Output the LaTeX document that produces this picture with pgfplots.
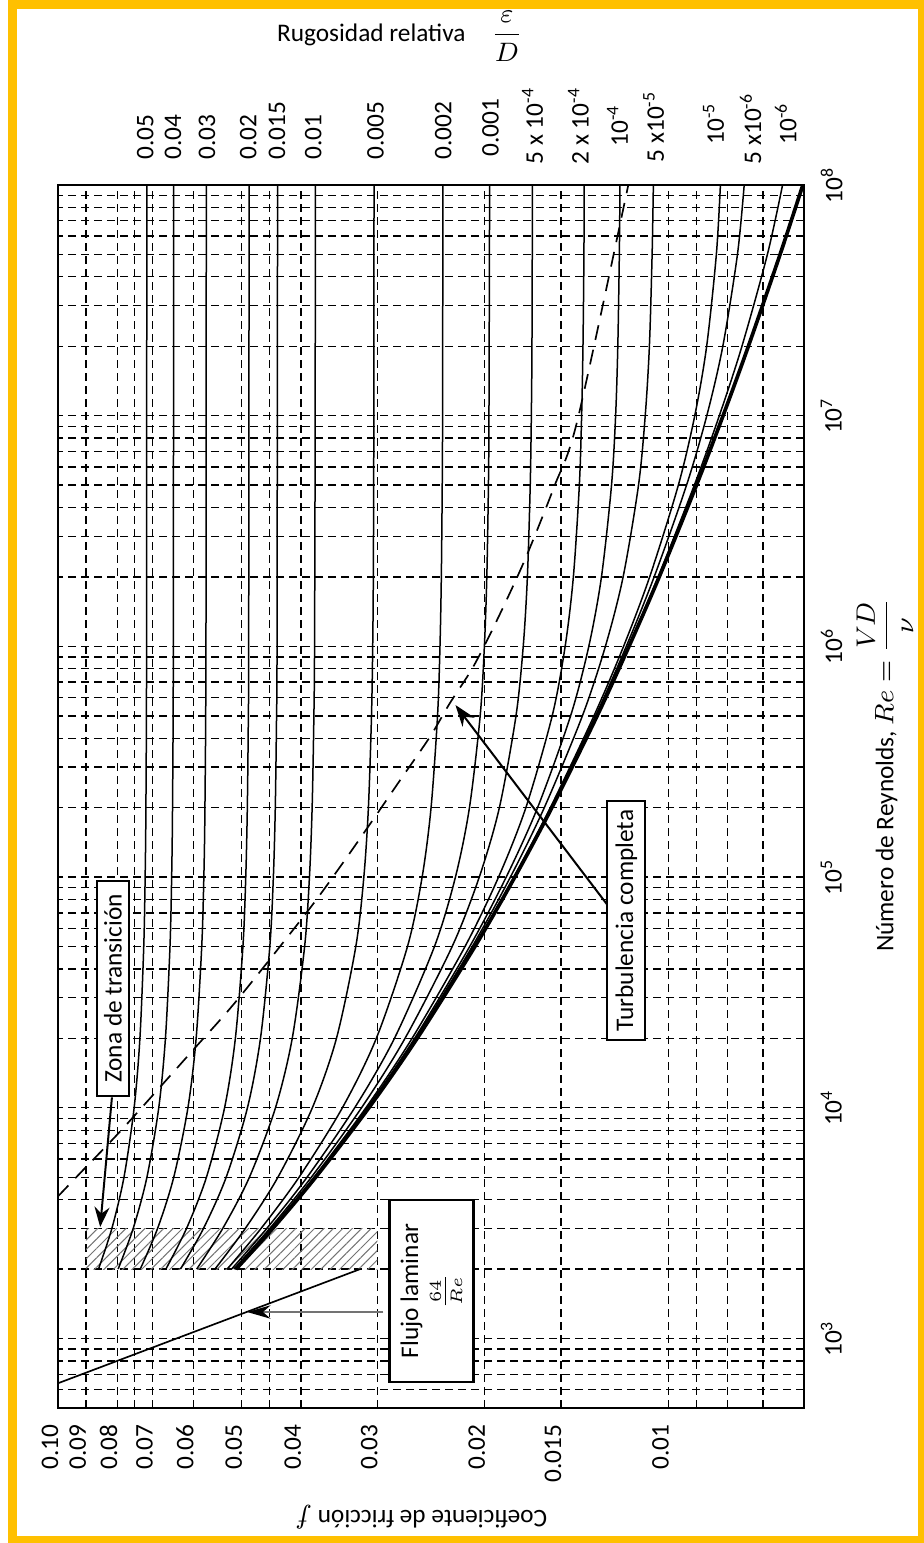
\documentclass[border=0pt]{standalone}
\usepackage{fontspec}
\setmainfont{Carlito}
\usepackage{amsmath}
\usepackage{pgfplots}
\pgfplotsset{compat=1.18}
\usetikzlibrary{arrows.meta,patterns.meta}
\definecolor{frameyellow}{RGB}{255,192,0}
\pgfplotsset{
  moody/.style={black, line width=0.45pt, smooth, tension=0.5},
}
\begin{document}
\begin{tikzpicture}[font=\fontsize{7.6}{9.1}\selectfont]
\begin{axis}[
  at={(0pt,0pt)}, anchor=south west,
  scale only axis, width=223.8pt, height=366.9pt,
  xmode=log, ymode=log, x dir=reverse,
  xmin=0.006, xmax=0.1, ymin=500, ymax=1e8,
  clip=false, no markers,
  axis line style={line width=0.8pt},
  xtick={0.1,0.09,0.08,0.07,0.06,0.05,0.04,0.03,0.02,0.015,0.01},
  xticklabels={0.10,0.09,0.08,0.07,0.06,0.05,0.04,0.03,0.02,0.015,0.01},
  minor xtick={0.075,0.045,0.009,0.008,0.007},
  ytick={1e3,1e4,1e5,1e6,1e7,1e8},
  yticklabels={10\textsuperscript{3},10\textsuperscript{4},10\textsuperscript{5},10\textsuperscript{6},10\textsuperscript{7},10\textsuperscript{8}},
  minor ytick={600,700,800,900,2000,3000,4000,5000,6000,7000,8000,9000,2e4,3e4,4e4,5e4,6e4,7e4,8e4,9e4,2e5,3e5,4e5,5e5,6e5,7e5,8e5,9e5,2e6,3e6,4e6,5e6,6e6,7e6,8e6,9e6,2e7,3e7,4e7,5e7,6e7,7e7,8e7,9e7},
  xmajorgrids, xminorgrids, ymajorgrids, yminorgrids,
  major grid style={black, line width=0.4pt, dash pattern=on 2.4pt off 1.5pt},
  minor grid style={black, line width=0.4pt, dash pattern=on 2.4pt off 1.5pt},
  major tick length=0pt, minor tick length=0pt,
  xticklabel style={yshift=-1.5pt, rotate=90, anchor=base east},
  yticklabel pos=right,
  yticklabel style={xshift=1.5pt, rotate=90, anchor=north},
  xlabel={Coeficiente de fricción $f$},
  ylabel={Número de Reynolds, $Re=\dfrac{VD}{\nu}$},
  every axis x label/.style={at={(axis description cs:0.487,0)}, anchor=center, yshift=-32.7pt, rotate=180},
  every axis y label/.style={at={(axis description cs:1,0.5176)}, anchor=center, xshift=24.3pt, rotate=90},
]
% transition zone (hatched)
\addplot[draw=none, pattern={Lines[angle=45,distance=2pt,line width=0.3pt]}, pattern color=black!55]
  coordinates {(0.09,2000) (0.03,2000) (0.03,3000) (0.09,3000) (0.09,2000)};
% laminar flow 64/Re
\addplot[black, line width=0.5pt] coordinates {(0.1,640) (0.032,2000)};
% complete turbulence boundary
\addplot[black, line width=0.5pt, dash pattern=on 4.5pt off 3pt, smooth, tension=0.5] coordinates {
 (0.1,4134) (0.0910,5370) (0.0782,8170) (0.0601,17800) (0.0509,29300) (0.0391,70600)
 (0.0345,111000) (0.0305,177000) (0.0275,264000) (0.0246,405000) (0.0228,569000)
 (0.0209,814000) (0.0191,1.30e6) (0.0172,2.37e6) (0.0154,4.91e6) (0.0141,9.57e6) (0.01164,1e8)};
% smooth pipe
\addplot[black, line width=1.1pt, smooth, tension=0.5] coordinates {
 (0.05109,2000) (0.04449,3000) (0.03785,5000) (0.03097,1e4) (0.02581,2e4) (0.02076,5e4)
 (0.01786,1e5) (0.01553,2e5) (0.01309,5e5) (0.01161,1e6) (0.01036,2e6) (0.009001,5e6)
 (0.008142,1e7) (0.007401,2e7) (0.006567,5e7) (0.006026,1e8)};
% 1e-6
\addplot[moody] coordinates {
 (0.05110,2000) (0.04449,3000) (0.03785,5000) (0.03097,1e4) (0.02582,2e4) (0.02076,5e4)
 (0.01787,1e5) (0.01554,2e5) (0.01311,5e5) (0.01163,1e6) (0.01040,2e6) (0.009075,5e6)
 (0.008258,1e7) (0.007583,2e7) (0.006889,5e7) (0.006506,1e8)};
% 5e-6
\addplot[moody] coordinates {
 (0.05110,2000) (0.04449,3000) (0.03785,5000) (0.03098,1e4) (0.02583,2e4) (0.02080,5e4)
 (0.01789,1e5) (0.01558,2e5) (0.01317,5e5) (0.01173,1e6) (0.01056,2e6) (0.009344,5e6)
 (0.008657,1e7) (0.008150,2e7) (0.007713,5e7) (0.007519,1e8)};
% 1e-5
\addplot[moody] coordinates {
 (0.05110,2000) (0.04450,3000) (0.03786,5000) (0.03099,1e4) (0.02584,2e4) (0.02080,5e4)
 (0.01792,1e5) (0.01562,2e5) (0.01325,5e5) (0.01185,1e6) (0.01074,2e6) (0.009638,5e6)
 (0.009059,1e7) (0.008662,2e7) (0.008351,5e7) (0.008224,1e8)};
% 5e-5
\addplot[moody] coordinates {
 (0.05114,2000) (0.04454,3000) (0.03791,5000) (0.03106,1e4) (0.02594,2e4) (0.02097,5e4)
 (0.01816,1e5) (0.01598,2e5) (0.01384,5e5) (0.01269,1e6) (0.01187,2e6) (0.01120,5e6)
 (0.01092,1e7) (0.01075,2e7) (0.01064,5e7) (0.01059,1e8)};
% 1e-4
\addplot[moody] coordinates {
 (0.05118,2000) (0.04459,3000) (0.03797,5000) (0.03115,1e4) (0.02606,2e4) (0.02117,5e4)
 (0.01845,1e5) (0.01639,2e5) (0.01447,5e5) (0.01351,1e6) (0.01288,2e6) (0.01240,5e6)
 (0.01221,1e7) (0.01211,2e7) (0.01204,5e7) (0.01201,1e8)};
% 2e-4
\addplot[moody] coordinates {
 (0.05127,2000) (0.04470,3000) (0.03810,5000) (0.03132,1e4) (0.02631,2e4) (0.02155,5e4)
 (0.01899,1e5) (0.01713,2e5) (0.01551,5e5) (0.01477,1e6) (0.01432,2e6) (0.01400,5e6)
 (0.01388,1e7) (0.01381,2e7) (0.01376,5e7) (0.01375,1e8)};
% 5e-4
\addplot[moody] coordinates {
 (0.05153,2000) (0.04500,3000) (0.03848,5000) (0.03184,1e4) (0.02702,2e4) (0.02262,5e4)
 (0.02042,1e5) (0.01893,2e5) (0.01778,5e5) (0.01730,1e6) (0.01703,2e6) (0.01685,5e6)
 (0.01678,1e7) (0.01674,2e7) (0.01671,1e8)};
% 0.001
\addplot[moody] coordinates {
 (0.05197,2000) (0.04551,3000) (0.03910,5000) (0.03267,1e4) (0.02812,2e4) (0.02418,5e4)
 (0.02234,1e5) (0.02119,2e5) (0.02035,5e5) (0.02003,1e6) (0.01985,2e6) (0.01973,5e6)
 (0.01969,1e7) (0.01964,1e8)};
% 0.002
\addplot[moody] coordinates {
 (0.05283,2000) (0.04650,3000) (0.04030,5000) (0.03422,1e4) (0.03011,2e4) (0.02677,5e4)
 (0.02533,1e5) (0.02449,2e5) (0.02390,5e5) (0.02368,1e6) (0.02356,2e6) (0.02348,5e6)
 (0.02345,1e7) (0.02342,1e8)};
% 0.005
\addplot[moody] coordinates {
 (0.05533,2000) (0.04935,3000) (0.04364,5000) (0.03833,1e4) (0.03499,2e4) (0.03253,5e4)
 (0.03156,1e5) (0.03102,2e5) (0.03066,5e5) (0.03052,1e6) (0.03045,2e6) (0.03039,1e7)
 (0.03037,1e8)};
% 0.01
\addplot[moody] coordinates {
 (0.05928,2000) (0.05373,3000) (0.04859,5000) (0.04404,1e4) (0.04134,2e4) (0.03946,5e4)
 (0.03875,1e5) (0.03836,2e5) (0.03810,5e5) (0.03801,1e6) (0.03792,1e7) (0.03790,1e8)};
% 0.015
\addplot[moody] coordinates {
 (0.06302,2000) (0.05778,3000) (0.05304,5000) (0.04895,1e4) (0.04660,2e4) (0.04499,5e4)
 (0.04439,1e5) (0.04407,2e5) (0.04386,5e5) (0.04378,1e6) (0.04369,1e8)};
% 0.02
\addplot[moody] coordinates {
 (0.06658,2000) (0.06159,3000) (0.05714,5000) (0.05336,1e4) (0.05123,2e4) (0.04979,5e4)
 (0.04926,1e5) (0.04897,2e5) (0.04878,5e5) (0.04872,1e6) (0.04864,1e8)};
% 0.03
\addplot[moody] coordinates {
 (0.07334,2000) (0.06870,3000) (0.06464,5000) (0.06127,1e4) (0.05940,2e4) (0.05816,5e4)
 (0.05770,1e5) (0.05746,2e5) (0.05724,1e6) (0.05717,1e8)};
% 0.04
\addplot[moody] coordinates {
 (0.07972,2000) (0.07532,3000) (0.07152,5000) (0.06840,1e4) (0.06669,2e4) (0.06556,5e4)
 (0.06515,1e5) (0.06493,2e5) (0.06473,1e6) (0.06467,1e8)};
% 0.05
\addplot[moody] coordinates {
 (0.08584,2000) (0.08162,3000) (0.07799,5000) (0.07505,1e4) (0.07344,2e4) (0.07238,5e4)
 (0.07200,1e5) (0.07179,2e5) (0.07161,1e6) (0.07155,1e8)};

% relative roughness labels
\begin{scope}[every node/.style={rotate=90, anchor=west, inner sep=0pt}]
\node at ([yshift=7.5pt]axis cs:0.0720,1e8) {0.05};
\node at ([yshift=7.5pt]axis cs:0.0648,1e8) {0.04};
\node at ([yshift=7.5pt]axis cs:0.0570,1e8) {0.03};
\node at ([yshift=7.5pt]axis cs:0.0488,1e8) {0.02};
\node at ([yshift=7.5pt]axis cs:0.0438,1e8) {0.015};
\node at ([yshift=7.5pt]axis cs:0.0382,1e8) {0.01};
\node at ([yshift=7.5pt]axis cs:0.0302,1e8) {0.005};
\node at ([yshift=7.5pt]axis cs:0.0234,1e8) {0.002};
\node at ([yshift=8.4pt]axis cs:0.01957,1e8) {0.001};
\node at ([yshift=6pt]axis cs:0.01671,1e8) {5 x 10\textsuperscript{-4}};
\node at ([yshift=6pt]axis cs:0.01405,1e8) {2 x 10\textsuperscript{-4}};
\node at ([yshift=11.4pt]axis cs:0.01212,1e8) {10\textsuperscript{-4}};
\node at ([yshift=6.6pt]axis cs:0.01058,1e8) {5 x10\textsuperscript{-5}};
\node at ([yshift=12pt]axis cs:0.00844,1e8) {10\textsuperscript{-5}};
\node at ([yshift=6pt]axis cs:0.00734,1e8) {5 x10\textsuperscript{-6}};
\node at ([yshift=12pt]axis cs:0.00643,1e8) {10\textsuperscript{-6}};
\end{scope}

% annotations
\draw[line width=0.6pt, -{Stealth[length=6pt,width=4.5pt]}] (axis cs:0.0816,11100) -- (axis cs:0.0853,3043);
\node[draw, line width=0.6pt, fill=white, rotate=90, minimum width=64.5pt, minimum height=9.6pt, inner sep=0pt]
  at (axis cs:0.0813,32900) {Zona de transición};
\draw[line width=0.6pt, -{Stealth[length=6.5pt,width=4.5pt]}] (axis cs:0.01259,75700) -- (axis cs:0.02234,557000);
\node[draw, line width=0.6pt, fill=white, rotate=90, minimum width=71.7pt, minimum height=11.4pt, inner sep=0pt]
  at (axis cs:0.01172,64860) {Turbulencia completa};
\draw[line width=0.8pt, black!55, -{Stealth[length=7pt,width=4pt,color=black]}] (axis cs:0.02933,1303) -- (axis cs:0.049,1303);
\node[draw, line width=0.8pt, fill=white, rotate=90, minimum width=54.6pt, minimum height=25.2pt, inner sep=0pt, align=center]
  at (axis cs:0.02446,1607) {Flujo laminar\\[1pt]$\frac{64}{Re}$};
\end{axis}

\node[anchor=center] at (102.6pt,411.5pt) {Rugosidad relativa\hspace{1em}$\dfrac{\varepsilon}{D}$};

\draw[frameyellow, line width=2.7pt] (-13.65pt,-39.75pt) rectangle (259.35pt,420.9pt);
\pgfresetboundingbox
\useasboundingbox (-17.4pt,-40.5pt) rectangle (259.8pt,422.4pt);
\end{tikzpicture}
\end{document}
